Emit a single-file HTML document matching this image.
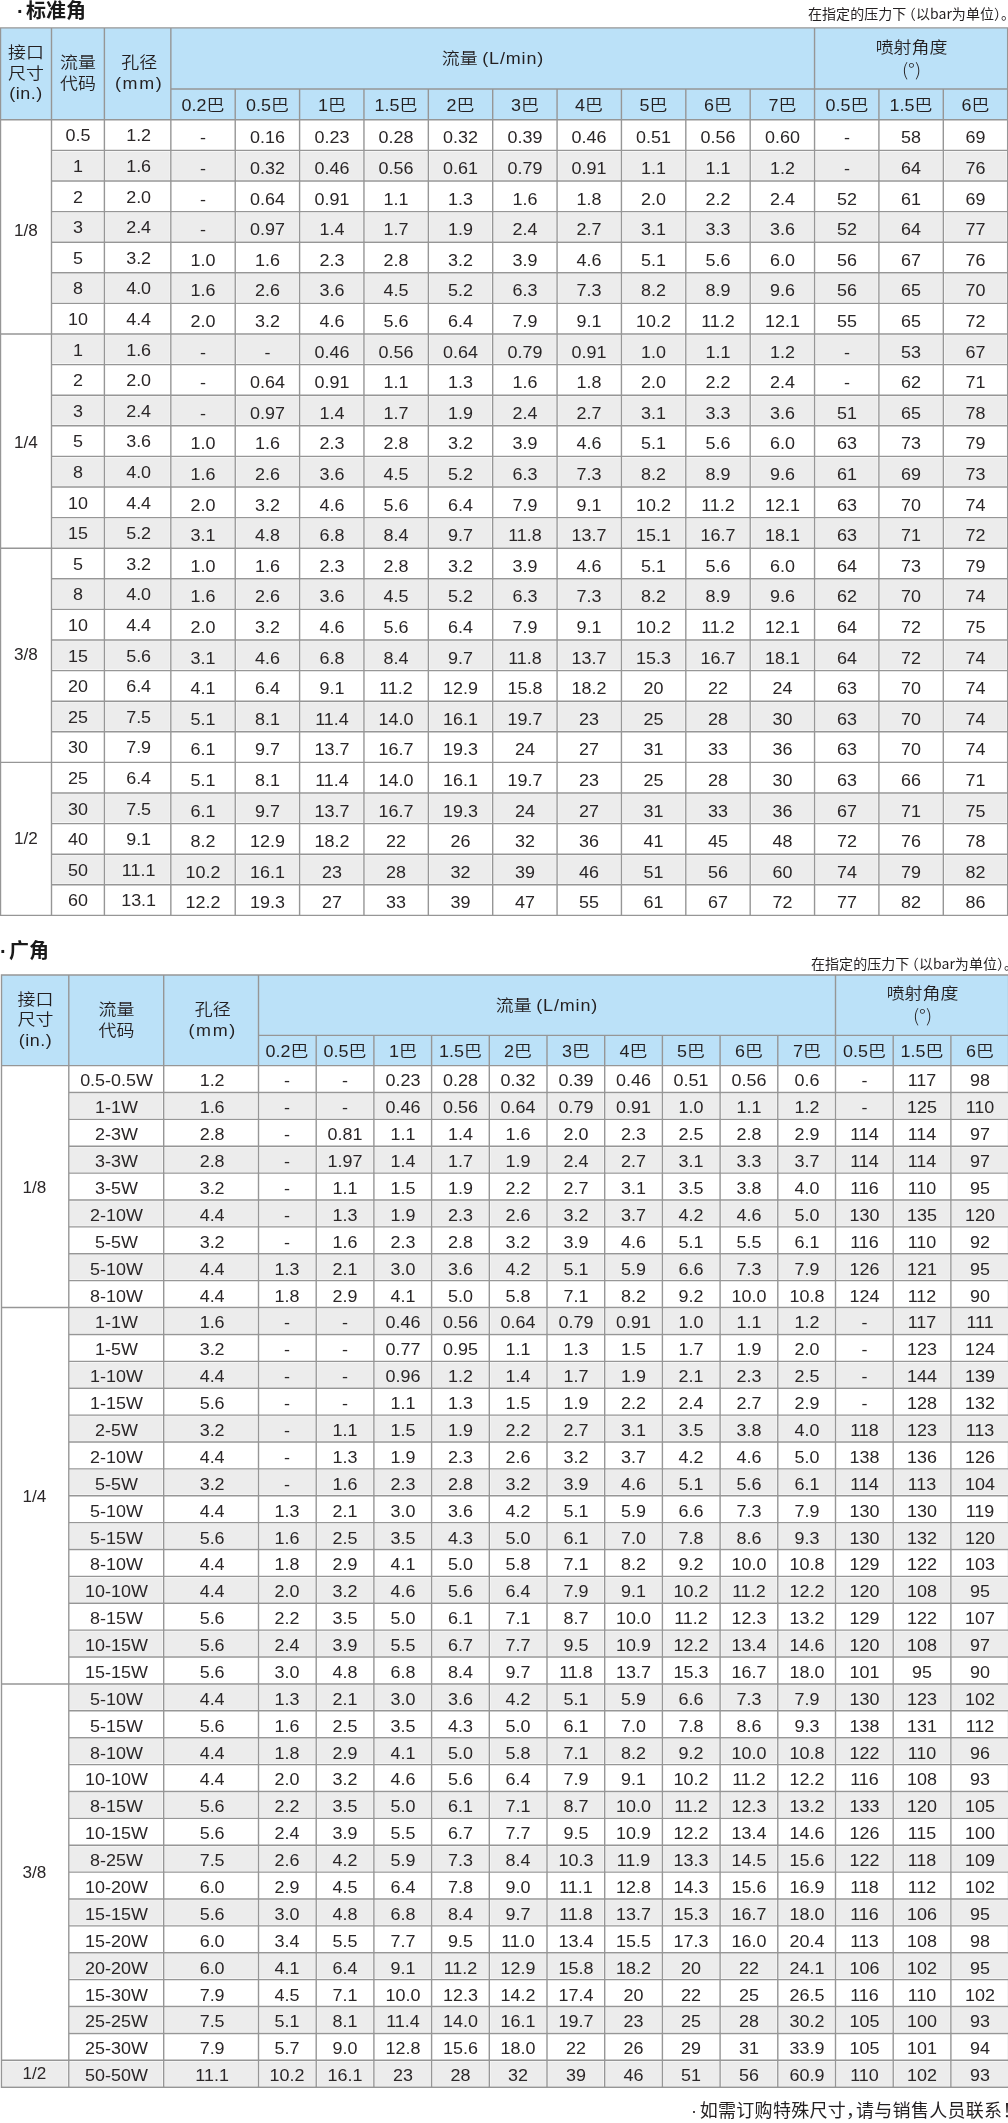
<!DOCTYPE html>
<html lang="zh-CN">
<head>
<meta charset="utf-8">
<title>喷嘴流量表</title>
<style>
html,body{margin:0;padding:0;background:#fff;}
body{width:1008px;height:2123px;position:relative;overflow:hidden;
 font-family:"Liberation Sans","Noto Sans CJK SC",sans-serif;color:#231f20;}
.title{position:absolute;will-change:transform;font-weight:700;font-size:20px;line-height:24px;white-space:nowrap;
 font-family:"Liberation Sans","Noto Sans CJK SC",sans-serif;color:#1a1a1a;}
.title .dot{display:inline-block;width:9px;}
.note{position:absolute;will-change:transform;right:0;letter-spacing:0.05px;font-size:14px;line-height:18px;white-space:nowrap;font-weight:400;text-spacing-trim:space-all;
 font-family:"Noto Sans CJK SC","Liberation Sans",sans-serif;color:#231f20;}
.note .p,.foot .p{margin-right:-0.5em;}
.note .q{margin-left:-4.5px;}
.foot{position:absolute;will-change:transform;left:690.7px;font-size:18px;line-height:22px;white-space:nowrap;font-weight:400;letter-spacing:0.3px;text-spacing-trim:space-all;
 font-family:"Noto Sans CJK SC","Liberation Sans",sans-serif;color:#231f20;}
.foot .sp{display:inline-block;width:0.6px;}
.foot .dot{font-family:"Liberation Sans",sans-serif;letter-spacing:0;margin-right:2.7px;}
svg.grid{position:absolute;left:0;top:0;}
table.t{position:absolute;border-collapse:collapse;border-spacing:0;table-layout:fixed;will-change:transform;}
.t th,.t td{border:0;padding:0;text-align:center;vertical-align:middle;white-space:nowrap;transform:scaleX(1.12);}
.t th{font-weight:350;font-size:16px;line-height:20.6px;color:#231f20;}
.t th .en{font-weight:400;font-size:16px;}
.t th.h3 .en{letter-spacing:0.5px;}
.t th.hf .en{letter-spacing:0.8px;margin-left:4px;}
.t th.hk .en{letter-spacing:1.5px;}
.t th.hk{padding-left:3px;}
.t th.ha .en{font-family:"Noto Sans CJK SC","Liberation Sans",sans-serif;font-weight:300;font-size:17.5px;}
.t tr.sub th{padding-top:3px;}
.t th.hf,.t th.ha{padding-top:2px;}
.t td{font-size:16px;font-weight:400;color:#2a2627;}
.t1 td{padding-top:6px;}
.t1 td.a{padding-top:2px;}
.t1 td.sz{padding-top:0;}
.t td.sz{transform:scaleX(1.07);}
.t2 td{padding-top:4px;}
.t2 td.sz{padding-top:1px;padding-right:2px;}
.t td.b{padding-left:2px;}
</style>
</head>
<body>
<svg class="grid" width="1008" height="2123" viewBox="0 0 1008 2123">
<rect x="0.5" y="27.9" width="1007.16" height="91.9" fill="#bbe1f8"/>
<rect x="52.65" y="151.55" width="50.6" height="28.3" fill="#ececec"/>
<rect x="105.55" y="151.55" width="64.15" height="28.3" fill="#ececec"/>
<rect x="172" y="151.55" width="62.07" height="28.3" fill="#ececec"/>
<rect x="236.37" y="151.55" width="62.07" height="28.3" fill="#ececec"/>
<rect x="300.74" y="151.55" width="62.07" height="28.3" fill="#ececec"/>
<rect x="365.11" y="151.55" width="62.07" height="28.3" fill="#ececec"/>
<rect x="429.48" y="151.55" width="62.07" height="28.3" fill="#ececec"/>
<rect x="493.85" y="151.55" width="62.07" height="28.3" fill="#ececec"/>
<rect x="558.22" y="151.55" width="62.07" height="28.3" fill="#ececec"/>
<rect x="622.59" y="151.55" width="62.07" height="28.3" fill="#ececec"/>
<rect x="686.96" y="151.55" width="62.07" height="28.3" fill="#ececec"/>
<rect x="751.33" y="151.55" width="62.07" height="28.3" fill="#ececec"/>
<rect x="815.7" y="151.55" width="62.07" height="28.3" fill="#ececec"/>
<rect x="880.07" y="151.55" width="62.07" height="28.3" fill="#ececec"/>
<rect x="944.44" y="151.55" width="62.07" height="28.3" fill="#ececec"/>
<rect x="52.65" y="212.75" width="50.6" height="28.3" fill="#ececec"/>
<rect x="105.55" y="212.75" width="64.15" height="28.3" fill="#ececec"/>
<rect x="172" y="212.75" width="62.07" height="28.3" fill="#ececec"/>
<rect x="236.37" y="212.75" width="62.07" height="28.3" fill="#ececec"/>
<rect x="300.74" y="212.75" width="62.07" height="28.3" fill="#ececec"/>
<rect x="365.11" y="212.75" width="62.07" height="28.3" fill="#ececec"/>
<rect x="429.48" y="212.75" width="62.07" height="28.3" fill="#ececec"/>
<rect x="493.85" y="212.75" width="62.07" height="28.3" fill="#ececec"/>
<rect x="558.22" y="212.75" width="62.07" height="28.3" fill="#ececec"/>
<rect x="622.59" y="212.75" width="62.07" height="28.3" fill="#ececec"/>
<rect x="686.96" y="212.75" width="62.07" height="28.3" fill="#ececec"/>
<rect x="751.33" y="212.75" width="62.07" height="28.3" fill="#ececec"/>
<rect x="815.7" y="212.75" width="62.07" height="28.3" fill="#ececec"/>
<rect x="880.07" y="212.75" width="62.07" height="28.3" fill="#ececec"/>
<rect x="944.44" y="212.75" width="62.07" height="28.3" fill="#ececec"/>
<rect x="52.65" y="273.95" width="50.6" height="28.3" fill="#ececec"/>
<rect x="105.55" y="273.95" width="64.15" height="28.3" fill="#ececec"/>
<rect x="172" y="273.95" width="62.07" height="28.3" fill="#ececec"/>
<rect x="236.37" y="273.95" width="62.07" height="28.3" fill="#ececec"/>
<rect x="300.74" y="273.95" width="62.07" height="28.3" fill="#ececec"/>
<rect x="365.11" y="273.95" width="62.07" height="28.3" fill="#ececec"/>
<rect x="429.48" y="273.95" width="62.07" height="28.3" fill="#ececec"/>
<rect x="493.85" y="273.95" width="62.07" height="28.3" fill="#ececec"/>
<rect x="558.22" y="273.95" width="62.07" height="28.3" fill="#ececec"/>
<rect x="622.59" y="273.95" width="62.07" height="28.3" fill="#ececec"/>
<rect x="686.96" y="273.95" width="62.07" height="28.3" fill="#ececec"/>
<rect x="751.33" y="273.95" width="62.07" height="28.3" fill="#ececec"/>
<rect x="815.7" y="273.95" width="62.07" height="28.3" fill="#ececec"/>
<rect x="880.07" y="273.95" width="62.07" height="28.3" fill="#ececec"/>
<rect x="944.44" y="273.95" width="62.07" height="28.3" fill="#ececec"/>
<rect x="52.65" y="335.15" width="50.6" height="28.3" fill="#ececec"/>
<rect x="105.55" y="335.15" width="64.15" height="28.3" fill="#ececec"/>
<rect x="172" y="335.15" width="62.07" height="28.3" fill="#ececec"/>
<rect x="236.37" y="335.15" width="62.07" height="28.3" fill="#ececec"/>
<rect x="300.74" y="335.15" width="62.07" height="28.3" fill="#ececec"/>
<rect x="365.11" y="335.15" width="62.07" height="28.3" fill="#ececec"/>
<rect x="429.48" y="335.15" width="62.07" height="28.3" fill="#ececec"/>
<rect x="493.85" y="335.15" width="62.07" height="28.3" fill="#ececec"/>
<rect x="558.22" y="335.15" width="62.07" height="28.3" fill="#ececec"/>
<rect x="622.59" y="335.15" width="62.07" height="28.3" fill="#ececec"/>
<rect x="686.96" y="335.15" width="62.07" height="28.3" fill="#ececec"/>
<rect x="751.33" y="335.15" width="62.07" height="28.3" fill="#ececec"/>
<rect x="815.7" y="335.15" width="62.07" height="28.3" fill="#ececec"/>
<rect x="880.07" y="335.15" width="62.07" height="28.3" fill="#ececec"/>
<rect x="944.44" y="335.15" width="62.07" height="28.3" fill="#ececec"/>
<rect x="52.65" y="396.35" width="50.6" height="28.3" fill="#ececec"/>
<rect x="105.55" y="396.35" width="64.15" height="28.3" fill="#ececec"/>
<rect x="172" y="396.35" width="62.07" height="28.3" fill="#ececec"/>
<rect x="236.37" y="396.35" width="62.07" height="28.3" fill="#ececec"/>
<rect x="300.74" y="396.35" width="62.07" height="28.3" fill="#ececec"/>
<rect x="365.11" y="396.35" width="62.07" height="28.3" fill="#ececec"/>
<rect x="429.48" y="396.35" width="62.07" height="28.3" fill="#ececec"/>
<rect x="493.85" y="396.35" width="62.07" height="28.3" fill="#ececec"/>
<rect x="558.22" y="396.35" width="62.07" height="28.3" fill="#ececec"/>
<rect x="622.59" y="396.35" width="62.07" height="28.3" fill="#ececec"/>
<rect x="686.96" y="396.35" width="62.07" height="28.3" fill="#ececec"/>
<rect x="751.33" y="396.35" width="62.07" height="28.3" fill="#ececec"/>
<rect x="815.7" y="396.35" width="62.07" height="28.3" fill="#ececec"/>
<rect x="880.07" y="396.35" width="62.07" height="28.3" fill="#ececec"/>
<rect x="944.44" y="396.35" width="62.07" height="28.3" fill="#ececec"/>
<rect x="52.65" y="457.55" width="50.6" height="28.3" fill="#ececec"/>
<rect x="105.55" y="457.55" width="64.15" height="28.3" fill="#ececec"/>
<rect x="172" y="457.55" width="62.07" height="28.3" fill="#ececec"/>
<rect x="236.37" y="457.55" width="62.07" height="28.3" fill="#ececec"/>
<rect x="300.74" y="457.55" width="62.07" height="28.3" fill="#ececec"/>
<rect x="365.11" y="457.55" width="62.07" height="28.3" fill="#ececec"/>
<rect x="429.48" y="457.55" width="62.07" height="28.3" fill="#ececec"/>
<rect x="493.85" y="457.55" width="62.07" height="28.3" fill="#ececec"/>
<rect x="558.22" y="457.55" width="62.07" height="28.3" fill="#ececec"/>
<rect x="622.59" y="457.55" width="62.07" height="28.3" fill="#ececec"/>
<rect x="686.96" y="457.55" width="62.07" height="28.3" fill="#ececec"/>
<rect x="751.33" y="457.55" width="62.07" height="28.3" fill="#ececec"/>
<rect x="815.7" y="457.55" width="62.07" height="28.3" fill="#ececec"/>
<rect x="880.07" y="457.55" width="62.07" height="28.3" fill="#ececec"/>
<rect x="944.44" y="457.55" width="62.07" height="28.3" fill="#ececec"/>
<rect x="52.65" y="518.75" width="50.6" height="28.3" fill="#ececec"/>
<rect x="105.55" y="518.75" width="64.15" height="28.3" fill="#ececec"/>
<rect x="172" y="518.75" width="62.07" height="28.3" fill="#ececec"/>
<rect x="236.37" y="518.75" width="62.07" height="28.3" fill="#ececec"/>
<rect x="300.74" y="518.75" width="62.07" height="28.3" fill="#ececec"/>
<rect x="365.11" y="518.75" width="62.07" height="28.3" fill="#ececec"/>
<rect x="429.48" y="518.75" width="62.07" height="28.3" fill="#ececec"/>
<rect x="493.85" y="518.75" width="62.07" height="28.3" fill="#ececec"/>
<rect x="558.22" y="518.75" width="62.07" height="28.3" fill="#ececec"/>
<rect x="622.59" y="518.75" width="62.07" height="28.3" fill="#ececec"/>
<rect x="686.96" y="518.75" width="62.07" height="28.3" fill="#ececec"/>
<rect x="751.33" y="518.75" width="62.07" height="28.3" fill="#ececec"/>
<rect x="815.7" y="518.75" width="62.07" height="28.3" fill="#ececec"/>
<rect x="880.07" y="518.75" width="62.07" height="28.3" fill="#ececec"/>
<rect x="944.44" y="518.75" width="62.07" height="28.3" fill="#ececec"/>
<rect x="52.65" y="579.95" width="50.6" height="28.3" fill="#ececec"/>
<rect x="105.55" y="579.95" width="64.15" height="28.3" fill="#ececec"/>
<rect x="172" y="579.95" width="62.07" height="28.3" fill="#ececec"/>
<rect x="236.37" y="579.95" width="62.07" height="28.3" fill="#ececec"/>
<rect x="300.74" y="579.95" width="62.07" height="28.3" fill="#ececec"/>
<rect x="365.11" y="579.95" width="62.07" height="28.3" fill="#ececec"/>
<rect x="429.48" y="579.95" width="62.07" height="28.3" fill="#ececec"/>
<rect x="493.85" y="579.95" width="62.07" height="28.3" fill="#ececec"/>
<rect x="558.22" y="579.95" width="62.07" height="28.3" fill="#ececec"/>
<rect x="622.59" y="579.95" width="62.07" height="28.3" fill="#ececec"/>
<rect x="686.96" y="579.95" width="62.07" height="28.3" fill="#ececec"/>
<rect x="751.33" y="579.95" width="62.07" height="28.3" fill="#ececec"/>
<rect x="815.7" y="579.95" width="62.07" height="28.3" fill="#ececec"/>
<rect x="880.07" y="579.95" width="62.07" height="28.3" fill="#ececec"/>
<rect x="944.44" y="579.95" width="62.07" height="28.3" fill="#ececec"/>
<rect x="52.65" y="641.15" width="50.6" height="28.3" fill="#ececec"/>
<rect x="105.55" y="641.15" width="64.15" height="28.3" fill="#ececec"/>
<rect x="172" y="641.15" width="62.07" height="28.3" fill="#ececec"/>
<rect x="236.37" y="641.15" width="62.07" height="28.3" fill="#ececec"/>
<rect x="300.74" y="641.15" width="62.07" height="28.3" fill="#ececec"/>
<rect x="365.11" y="641.15" width="62.07" height="28.3" fill="#ececec"/>
<rect x="429.48" y="641.15" width="62.07" height="28.3" fill="#ececec"/>
<rect x="493.85" y="641.15" width="62.07" height="28.3" fill="#ececec"/>
<rect x="558.22" y="641.15" width="62.07" height="28.3" fill="#ececec"/>
<rect x="622.59" y="641.15" width="62.07" height="28.3" fill="#ececec"/>
<rect x="686.96" y="641.15" width="62.07" height="28.3" fill="#ececec"/>
<rect x="751.33" y="641.15" width="62.07" height="28.3" fill="#ececec"/>
<rect x="815.7" y="641.15" width="62.07" height="28.3" fill="#ececec"/>
<rect x="880.07" y="641.15" width="62.07" height="28.3" fill="#ececec"/>
<rect x="944.44" y="641.15" width="62.07" height="28.3" fill="#ececec"/>
<rect x="52.65" y="702.35" width="50.6" height="28.3" fill="#ececec"/>
<rect x="105.55" y="702.35" width="64.15" height="28.3" fill="#ececec"/>
<rect x="172" y="702.35" width="62.07" height="28.3" fill="#ececec"/>
<rect x="236.37" y="702.35" width="62.07" height="28.3" fill="#ececec"/>
<rect x="300.74" y="702.35" width="62.07" height="28.3" fill="#ececec"/>
<rect x="365.11" y="702.35" width="62.07" height="28.3" fill="#ececec"/>
<rect x="429.48" y="702.35" width="62.07" height="28.3" fill="#ececec"/>
<rect x="493.85" y="702.35" width="62.07" height="28.3" fill="#ececec"/>
<rect x="558.22" y="702.35" width="62.07" height="28.3" fill="#ececec"/>
<rect x="622.59" y="702.35" width="62.07" height="28.3" fill="#ececec"/>
<rect x="686.96" y="702.35" width="62.07" height="28.3" fill="#ececec"/>
<rect x="751.33" y="702.35" width="62.07" height="28.3" fill="#ececec"/>
<rect x="815.7" y="702.35" width="62.07" height="28.3" fill="#ececec"/>
<rect x="880.07" y="702.35" width="62.07" height="28.3" fill="#ececec"/>
<rect x="944.44" y="702.35" width="62.07" height="28.3" fill="#ececec"/>
<rect x="52.65" y="794.15" width="50.6" height="28.3" fill="#ececec"/>
<rect x="105.55" y="794.15" width="64.15" height="28.3" fill="#ececec"/>
<rect x="172" y="794.15" width="62.07" height="28.3" fill="#ececec"/>
<rect x="236.37" y="794.15" width="62.07" height="28.3" fill="#ececec"/>
<rect x="300.74" y="794.15" width="62.07" height="28.3" fill="#ececec"/>
<rect x="365.11" y="794.15" width="62.07" height="28.3" fill="#ececec"/>
<rect x="429.48" y="794.15" width="62.07" height="28.3" fill="#ececec"/>
<rect x="493.85" y="794.15" width="62.07" height="28.3" fill="#ececec"/>
<rect x="558.22" y="794.15" width="62.07" height="28.3" fill="#ececec"/>
<rect x="622.59" y="794.15" width="62.07" height="28.3" fill="#ececec"/>
<rect x="686.96" y="794.15" width="62.07" height="28.3" fill="#ececec"/>
<rect x="751.33" y="794.15" width="62.07" height="28.3" fill="#ececec"/>
<rect x="815.7" y="794.15" width="62.07" height="28.3" fill="#ececec"/>
<rect x="880.07" y="794.15" width="62.07" height="28.3" fill="#ececec"/>
<rect x="944.44" y="794.15" width="62.07" height="28.3" fill="#ececec"/>
<rect x="52.65" y="855.35" width="50.6" height="28.3" fill="#ececec"/>
<rect x="105.55" y="855.35" width="64.15" height="28.3" fill="#ececec"/>
<rect x="172" y="855.35" width="62.07" height="28.3" fill="#ececec"/>
<rect x="236.37" y="855.35" width="62.07" height="28.3" fill="#ececec"/>
<rect x="300.74" y="855.35" width="62.07" height="28.3" fill="#ececec"/>
<rect x="365.11" y="855.35" width="62.07" height="28.3" fill="#ececec"/>
<rect x="429.48" y="855.35" width="62.07" height="28.3" fill="#ececec"/>
<rect x="493.85" y="855.35" width="62.07" height="28.3" fill="#ececec"/>
<rect x="558.22" y="855.35" width="62.07" height="28.3" fill="#ececec"/>
<rect x="622.59" y="855.35" width="62.07" height="28.3" fill="#ececec"/>
<rect x="686.96" y="855.35" width="62.07" height="28.3" fill="#ececec"/>
<rect x="751.33" y="855.35" width="62.07" height="28.3" fill="#ececec"/>
<rect x="815.7" y="855.35" width="62.07" height="28.3" fill="#ececec"/>
<rect x="880.07" y="855.35" width="62.07" height="28.3" fill="#ececec"/>
<rect x="944.44" y="855.35" width="62.07" height="28.3" fill="#ececec"/>
<path d="M-0.2 27.9H1008.36M170.85 89H1007.66M0.5 119.8H1007.66M51.5 150.4H1007.66M51.5 181H1007.66M51.5 211.6H1007.66M51.5 242.2H1007.66M51.5 272.8H1007.66M51.5 303.4H1007.66M0.5 334H1007.66M51.5 364.6H1007.66M51.5 395.2H1007.66M51.5 425.8H1007.66M51.5 456.4H1007.66M51.5 487H1007.66M51.5 517.6H1007.66M0.5 548.2H1007.66M51.5 578.8H1007.66M51.5 609.4H1007.66M51.5 640H1007.66M51.5 670.6H1007.66M51.5 701.2H1007.66M51.5 731.8H1007.66M0.5 762.4H1007.66M51.5 793H1007.66M51.5 823.6H1007.66M51.5 854.2H1007.66M51.5 884.8H1007.66M-0.2 915.4H1008.36M0.5 27.9V915.4M51.5 27.9V915.4M104.4 27.9V915.4M170.85 27.9V915.4M235.22 89V915.4M299.59 89V915.4M363.96 89V915.4M428.33 89V915.4M492.7 89V915.4M557.07 89V915.4M621.44 89V915.4M685.81 89V915.4M750.18 89V915.4M814.55 27.9V915.4M878.92 89V915.4M943.29 89V915.4M1007.66 27.9V915.4" fill="none" stroke="#969696" stroke-width="1.4"/>
<rect x="1.5" y="975" width="1007.1" height="90.6" fill="#bbe1f8"/>
<rect x="69.95" y="1093.63" width="92.6" height="24.58" fill="#ececec"/>
<rect x="164.85" y="1093.63" width="92.5" height="24.58" fill="#ececec"/>
<rect x="259.65" y="1093.63" width="55.4" height="24.58" fill="#ececec"/>
<rect x="317.35" y="1093.63" width="55.4" height="24.58" fill="#ececec"/>
<rect x="375.05" y="1093.63" width="55.4" height="24.58" fill="#ececec"/>
<rect x="432.75" y="1093.63" width="55.4" height="24.58" fill="#ececec"/>
<rect x="490.45" y="1093.63" width="55.4" height="24.58" fill="#ececec"/>
<rect x="548.15" y="1093.63" width="55.4" height="24.58" fill="#ececec"/>
<rect x="605.85" y="1093.63" width="55.4" height="24.58" fill="#ececec"/>
<rect x="663.55" y="1093.63" width="55.4" height="24.58" fill="#ececec"/>
<rect x="721.25" y="1093.63" width="55.4" height="24.58" fill="#ececec"/>
<rect x="778.95" y="1093.63" width="55.4" height="24.58" fill="#ececec"/>
<rect x="836.65" y="1093.63" width="55.4" height="24.58" fill="#ececec"/>
<rect x="894.35" y="1093.63" width="55.4" height="24.58" fill="#ececec"/>
<rect x="952.05" y="1093.63" width="55.4" height="24.58" fill="#ececec"/>
<rect x="69.95" y="1147.4" width="92.6" height="24.58" fill="#ececec"/>
<rect x="164.85" y="1147.4" width="92.5" height="24.58" fill="#ececec"/>
<rect x="259.65" y="1147.4" width="55.4" height="24.58" fill="#ececec"/>
<rect x="317.35" y="1147.4" width="55.4" height="24.58" fill="#ececec"/>
<rect x="375.05" y="1147.4" width="55.4" height="24.58" fill="#ececec"/>
<rect x="432.75" y="1147.4" width="55.4" height="24.58" fill="#ececec"/>
<rect x="490.45" y="1147.4" width="55.4" height="24.58" fill="#ececec"/>
<rect x="548.15" y="1147.4" width="55.4" height="24.58" fill="#ececec"/>
<rect x="605.85" y="1147.4" width="55.4" height="24.58" fill="#ececec"/>
<rect x="663.55" y="1147.4" width="55.4" height="24.58" fill="#ececec"/>
<rect x="721.25" y="1147.4" width="55.4" height="24.58" fill="#ececec"/>
<rect x="778.95" y="1147.4" width="55.4" height="24.58" fill="#ececec"/>
<rect x="836.65" y="1147.4" width="55.4" height="24.58" fill="#ececec"/>
<rect x="894.35" y="1147.4" width="55.4" height="24.58" fill="#ececec"/>
<rect x="952.05" y="1147.4" width="55.4" height="24.58" fill="#ececec"/>
<rect x="69.95" y="1201.17" width="92.6" height="24.58" fill="#ececec"/>
<rect x="164.85" y="1201.17" width="92.5" height="24.58" fill="#ececec"/>
<rect x="259.65" y="1201.17" width="55.4" height="24.58" fill="#ececec"/>
<rect x="317.35" y="1201.17" width="55.4" height="24.58" fill="#ececec"/>
<rect x="375.05" y="1201.17" width="55.4" height="24.58" fill="#ececec"/>
<rect x="432.75" y="1201.17" width="55.4" height="24.58" fill="#ececec"/>
<rect x="490.45" y="1201.17" width="55.4" height="24.58" fill="#ececec"/>
<rect x="548.15" y="1201.17" width="55.4" height="24.58" fill="#ececec"/>
<rect x="605.85" y="1201.17" width="55.4" height="24.58" fill="#ececec"/>
<rect x="663.55" y="1201.17" width="55.4" height="24.58" fill="#ececec"/>
<rect x="721.25" y="1201.17" width="55.4" height="24.58" fill="#ececec"/>
<rect x="778.95" y="1201.17" width="55.4" height="24.58" fill="#ececec"/>
<rect x="836.65" y="1201.17" width="55.4" height="24.58" fill="#ececec"/>
<rect x="894.35" y="1201.17" width="55.4" height="24.58" fill="#ececec"/>
<rect x="952.05" y="1201.17" width="55.4" height="24.58" fill="#ececec"/>
<rect x="69.95" y="1254.94" width="92.6" height="24.58" fill="#ececec"/>
<rect x="164.85" y="1254.94" width="92.5" height="24.58" fill="#ececec"/>
<rect x="259.65" y="1254.94" width="55.4" height="24.58" fill="#ececec"/>
<rect x="317.35" y="1254.94" width="55.4" height="24.58" fill="#ececec"/>
<rect x="375.05" y="1254.94" width="55.4" height="24.58" fill="#ececec"/>
<rect x="432.75" y="1254.94" width="55.4" height="24.58" fill="#ececec"/>
<rect x="490.45" y="1254.94" width="55.4" height="24.58" fill="#ececec"/>
<rect x="548.15" y="1254.94" width="55.4" height="24.58" fill="#ececec"/>
<rect x="605.85" y="1254.94" width="55.4" height="24.58" fill="#ececec"/>
<rect x="663.55" y="1254.94" width="55.4" height="24.58" fill="#ececec"/>
<rect x="721.25" y="1254.94" width="55.4" height="24.58" fill="#ececec"/>
<rect x="778.95" y="1254.94" width="55.4" height="24.58" fill="#ececec"/>
<rect x="836.65" y="1254.94" width="55.4" height="24.58" fill="#ececec"/>
<rect x="894.35" y="1254.94" width="55.4" height="24.58" fill="#ececec"/>
<rect x="952.05" y="1254.94" width="55.4" height="24.58" fill="#ececec"/>
<rect x="69.95" y="1308.71" width="92.6" height="24.58" fill="#ececec"/>
<rect x="164.85" y="1308.71" width="92.5" height="24.58" fill="#ececec"/>
<rect x="259.65" y="1308.71" width="55.4" height="24.58" fill="#ececec"/>
<rect x="317.35" y="1308.71" width="55.4" height="24.58" fill="#ececec"/>
<rect x="375.05" y="1308.71" width="55.4" height="24.58" fill="#ececec"/>
<rect x="432.75" y="1308.71" width="55.4" height="24.58" fill="#ececec"/>
<rect x="490.45" y="1308.71" width="55.4" height="24.58" fill="#ececec"/>
<rect x="548.15" y="1308.71" width="55.4" height="24.58" fill="#ececec"/>
<rect x="605.85" y="1308.71" width="55.4" height="24.58" fill="#ececec"/>
<rect x="663.55" y="1308.71" width="55.4" height="24.58" fill="#ececec"/>
<rect x="721.25" y="1308.71" width="55.4" height="24.58" fill="#ececec"/>
<rect x="778.95" y="1308.71" width="55.4" height="24.58" fill="#ececec"/>
<rect x="836.65" y="1308.71" width="55.4" height="24.58" fill="#ececec"/>
<rect x="894.35" y="1308.71" width="55.4" height="24.58" fill="#ececec"/>
<rect x="952.05" y="1308.71" width="55.4" height="24.58" fill="#ececec"/>
<rect x="69.95" y="1362.48" width="92.6" height="24.58" fill="#ececec"/>
<rect x="164.85" y="1362.48" width="92.5" height="24.58" fill="#ececec"/>
<rect x="259.65" y="1362.48" width="55.4" height="24.58" fill="#ececec"/>
<rect x="317.35" y="1362.48" width="55.4" height="24.58" fill="#ececec"/>
<rect x="375.05" y="1362.48" width="55.4" height="24.58" fill="#ececec"/>
<rect x="432.75" y="1362.48" width="55.4" height="24.58" fill="#ececec"/>
<rect x="490.45" y="1362.48" width="55.4" height="24.58" fill="#ececec"/>
<rect x="548.15" y="1362.48" width="55.4" height="24.58" fill="#ececec"/>
<rect x="605.85" y="1362.48" width="55.4" height="24.58" fill="#ececec"/>
<rect x="663.55" y="1362.48" width="55.4" height="24.58" fill="#ececec"/>
<rect x="721.25" y="1362.48" width="55.4" height="24.58" fill="#ececec"/>
<rect x="778.95" y="1362.48" width="55.4" height="24.58" fill="#ececec"/>
<rect x="836.65" y="1362.48" width="55.4" height="24.58" fill="#ececec"/>
<rect x="894.35" y="1362.48" width="55.4" height="24.58" fill="#ececec"/>
<rect x="952.05" y="1362.48" width="55.4" height="24.58" fill="#ececec"/>
<rect x="69.95" y="1416.24" width="92.6" height="24.58" fill="#ececec"/>
<rect x="164.85" y="1416.24" width="92.5" height="24.58" fill="#ececec"/>
<rect x="259.65" y="1416.24" width="55.4" height="24.58" fill="#ececec"/>
<rect x="317.35" y="1416.24" width="55.4" height="24.58" fill="#ececec"/>
<rect x="375.05" y="1416.24" width="55.4" height="24.58" fill="#ececec"/>
<rect x="432.75" y="1416.24" width="55.4" height="24.58" fill="#ececec"/>
<rect x="490.45" y="1416.24" width="55.4" height="24.58" fill="#ececec"/>
<rect x="548.15" y="1416.24" width="55.4" height="24.58" fill="#ececec"/>
<rect x="605.85" y="1416.24" width="55.4" height="24.58" fill="#ececec"/>
<rect x="663.55" y="1416.24" width="55.4" height="24.58" fill="#ececec"/>
<rect x="721.25" y="1416.24" width="55.4" height="24.58" fill="#ececec"/>
<rect x="778.95" y="1416.24" width="55.4" height="24.58" fill="#ececec"/>
<rect x="836.65" y="1416.24" width="55.4" height="24.58" fill="#ececec"/>
<rect x="894.35" y="1416.24" width="55.4" height="24.58" fill="#ececec"/>
<rect x="952.05" y="1416.24" width="55.4" height="24.58" fill="#ececec"/>
<rect x="69.95" y="1470.01" width="92.6" height="24.58" fill="#ececec"/>
<rect x="164.85" y="1470.01" width="92.5" height="24.58" fill="#ececec"/>
<rect x="259.65" y="1470.01" width="55.4" height="24.58" fill="#ececec"/>
<rect x="317.35" y="1470.01" width="55.4" height="24.58" fill="#ececec"/>
<rect x="375.05" y="1470.01" width="55.4" height="24.58" fill="#ececec"/>
<rect x="432.75" y="1470.01" width="55.4" height="24.58" fill="#ececec"/>
<rect x="490.45" y="1470.01" width="55.4" height="24.58" fill="#ececec"/>
<rect x="548.15" y="1470.01" width="55.4" height="24.58" fill="#ececec"/>
<rect x="605.85" y="1470.01" width="55.4" height="24.58" fill="#ececec"/>
<rect x="663.55" y="1470.01" width="55.4" height="24.58" fill="#ececec"/>
<rect x="721.25" y="1470.01" width="55.4" height="24.58" fill="#ececec"/>
<rect x="778.95" y="1470.01" width="55.4" height="24.58" fill="#ececec"/>
<rect x="836.65" y="1470.01" width="55.4" height="24.58" fill="#ececec"/>
<rect x="894.35" y="1470.01" width="55.4" height="24.58" fill="#ececec"/>
<rect x="952.05" y="1470.01" width="55.4" height="24.58" fill="#ececec"/>
<rect x="69.95" y="1523.78" width="92.6" height="24.58" fill="#ececec"/>
<rect x="164.85" y="1523.78" width="92.5" height="24.58" fill="#ececec"/>
<rect x="259.65" y="1523.78" width="55.4" height="24.58" fill="#ececec"/>
<rect x="317.35" y="1523.78" width="55.4" height="24.58" fill="#ececec"/>
<rect x="375.05" y="1523.78" width="55.4" height="24.58" fill="#ececec"/>
<rect x="432.75" y="1523.78" width="55.4" height="24.58" fill="#ececec"/>
<rect x="490.45" y="1523.78" width="55.4" height="24.58" fill="#ececec"/>
<rect x="548.15" y="1523.78" width="55.4" height="24.58" fill="#ececec"/>
<rect x="605.85" y="1523.78" width="55.4" height="24.58" fill="#ececec"/>
<rect x="663.55" y="1523.78" width="55.4" height="24.58" fill="#ececec"/>
<rect x="721.25" y="1523.78" width="55.4" height="24.58" fill="#ececec"/>
<rect x="778.95" y="1523.78" width="55.4" height="24.58" fill="#ececec"/>
<rect x="836.65" y="1523.78" width="55.4" height="24.58" fill="#ececec"/>
<rect x="894.35" y="1523.78" width="55.4" height="24.58" fill="#ececec"/>
<rect x="952.05" y="1523.78" width="55.4" height="24.58" fill="#ececec"/>
<rect x="69.95" y="1577.55" width="92.6" height="24.58" fill="#ececec"/>
<rect x="164.85" y="1577.55" width="92.5" height="24.58" fill="#ececec"/>
<rect x="259.65" y="1577.55" width="55.4" height="24.58" fill="#ececec"/>
<rect x="317.35" y="1577.55" width="55.4" height="24.58" fill="#ececec"/>
<rect x="375.05" y="1577.55" width="55.4" height="24.58" fill="#ececec"/>
<rect x="432.75" y="1577.55" width="55.4" height="24.58" fill="#ececec"/>
<rect x="490.45" y="1577.55" width="55.4" height="24.58" fill="#ececec"/>
<rect x="548.15" y="1577.55" width="55.4" height="24.58" fill="#ececec"/>
<rect x="605.85" y="1577.55" width="55.4" height="24.58" fill="#ececec"/>
<rect x="663.55" y="1577.55" width="55.4" height="24.58" fill="#ececec"/>
<rect x="721.25" y="1577.55" width="55.4" height="24.58" fill="#ececec"/>
<rect x="778.95" y="1577.55" width="55.4" height="24.58" fill="#ececec"/>
<rect x="836.65" y="1577.55" width="55.4" height="24.58" fill="#ececec"/>
<rect x="894.35" y="1577.55" width="55.4" height="24.58" fill="#ececec"/>
<rect x="952.05" y="1577.55" width="55.4" height="24.58" fill="#ececec"/>
<rect x="69.95" y="1631.32" width="92.6" height="24.58" fill="#ececec"/>
<rect x="164.85" y="1631.32" width="92.5" height="24.58" fill="#ececec"/>
<rect x="259.65" y="1631.32" width="55.4" height="24.58" fill="#ececec"/>
<rect x="317.35" y="1631.32" width="55.4" height="24.58" fill="#ececec"/>
<rect x="375.05" y="1631.32" width="55.4" height="24.58" fill="#ececec"/>
<rect x="432.75" y="1631.32" width="55.4" height="24.58" fill="#ececec"/>
<rect x="490.45" y="1631.32" width="55.4" height="24.58" fill="#ececec"/>
<rect x="548.15" y="1631.32" width="55.4" height="24.58" fill="#ececec"/>
<rect x="605.85" y="1631.32" width="55.4" height="24.58" fill="#ececec"/>
<rect x="663.55" y="1631.32" width="55.4" height="24.58" fill="#ececec"/>
<rect x="721.25" y="1631.32" width="55.4" height="24.58" fill="#ececec"/>
<rect x="778.95" y="1631.32" width="55.4" height="24.58" fill="#ececec"/>
<rect x="836.65" y="1631.32" width="55.4" height="24.58" fill="#ececec"/>
<rect x="894.35" y="1631.32" width="55.4" height="24.58" fill="#ececec"/>
<rect x="952.05" y="1631.32" width="55.4" height="24.58" fill="#ececec"/>
<rect x="69.95" y="1685.09" width="92.6" height="24.58" fill="#ececec"/>
<rect x="164.85" y="1685.09" width="92.5" height="24.58" fill="#ececec"/>
<rect x="259.65" y="1685.09" width="55.4" height="24.58" fill="#ececec"/>
<rect x="317.35" y="1685.09" width="55.4" height="24.58" fill="#ececec"/>
<rect x="375.05" y="1685.09" width="55.4" height="24.58" fill="#ececec"/>
<rect x="432.75" y="1685.09" width="55.4" height="24.58" fill="#ececec"/>
<rect x="490.45" y="1685.09" width="55.4" height="24.58" fill="#ececec"/>
<rect x="548.15" y="1685.09" width="55.4" height="24.58" fill="#ececec"/>
<rect x="605.85" y="1685.09" width="55.4" height="24.58" fill="#ececec"/>
<rect x="663.55" y="1685.09" width="55.4" height="24.58" fill="#ececec"/>
<rect x="721.25" y="1685.09" width="55.4" height="24.58" fill="#ececec"/>
<rect x="778.95" y="1685.09" width="55.4" height="24.58" fill="#ececec"/>
<rect x="836.65" y="1685.09" width="55.4" height="24.58" fill="#ececec"/>
<rect x="894.35" y="1685.09" width="55.4" height="24.58" fill="#ececec"/>
<rect x="952.05" y="1685.09" width="55.4" height="24.58" fill="#ececec"/>
<rect x="69.95" y="1738.86" width="92.6" height="24.58" fill="#ececec"/>
<rect x="164.85" y="1738.86" width="92.5" height="24.58" fill="#ececec"/>
<rect x="259.65" y="1738.86" width="55.4" height="24.58" fill="#ececec"/>
<rect x="317.35" y="1738.86" width="55.4" height="24.58" fill="#ececec"/>
<rect x="375.05" y="1738.86" width="55.4" height="24.58" fill="#ececec"/>
<rect x="432.75" y="1738.86" width="55.4" height="24.58" fill="#ececec"/>
<rect x="490.45" y="1738.86" width="55.4" height="24.58" fill="#ececec"/>
<rect x="548.15" y="1738.86" width="55.4" height="24.58" fill="#ececec"/>
<rect x="605.85" y="1738.86" width="55.4" height="24.58" fill="#ececec"/>
<rect x="663.55" y="1738.86" width="55.4" height="24.58" fill="#ececec"/>
<rect x="721.25" y="1738.86" width="55.4" height="24.58" fill="#ececec"/>
<rect x="778.95" y="1738.86" width="55.4" height="24.58" fill="#ececec"/>
<rect x="836.65" y="1738.86" width="55.4" height="24.58" fill="#ececec"/>
<rect x="894.35" y="1738.86" width="55.4" height="24.58" fill="#ececec"/>
<rect x="952.05" y="1738.86" width="55.4" height="24.58" fill="#ececec"/>
<rect x="69.95" y="1792.62" width="92.6" height="24.58" fill="#ececec"/>
<rect x="164.85" y="1792.62" width="92.5" height="24.58" fill="#ececec"/>
<rect x="259.65" y="1792.62" width="55.4" height="24.58" fill="#ececec"/>
<rect x="317.35" y="1792.62" width="55.4" height="24.58" fill="#ececec"/>
<rect x="375.05" y="1792.62" width="55.4" height="24.58" fill="#ececec"/>
<rect x="432.75" y="1792.62" width="55.4" height="24.58" fill="#ececec"/>
<rect x="490.45" y="1792.62" width="55.4" height="24.58" fill="#ececec"/>
<rect x="548.15" y="1792.62" width="55.4" height="24.58" fill="#ececec"/>
<rect x="605.85" y="1792.62" width="55.4" height="24.58" fill="#ececec"/>
<rect x="663.55" y="1792.62" width="55.4" height="24.58" fill="#ececec"/>
<rect x="721.25" y="1792.62" width="55.4" height="24.58" fill="#ececec"/>
<rect x="778.95" y="1792.62" width="55.4" height="24.58" fill="#ececec"/>
<rect x="836.65" y="1792.62" width="55.4" height="24.58" fill="#ececec"/>
<rect x="894.35" y="1792.62" width="55.4" height="24.58" fill="#ececec"/>
<rect x="952.05" y="1792.62" width="55.4" height="24.58" fill="#ececec"/>
<rect x="69.95" y="1846.39" width="92.6" height="24.58" fill="#ececec"/>
<rect x="164.85" y="1846.39" width="92.5" height="24.58" fill="#ececec"/>
<rect x="259.65" y="1846.39" width="55.4" height="24.58" fill="#ececec"/>
<rect x="317.35" y="1846.39" width="55.4" height="24.58" fill="#ececec"/>
<rect x="375.05" y="1846.39" width="55.4" height="24.58" fill="#ececec"/>
<rect x="432.75" y="1846.39" width="55.4" height="24.58" fill="#ececec"/>
<rect x="490.45" y="1846.39" width="55.4" height="24.58" fill="#ececec"/>
<rect x="548.15" y="1846.39" width="55.4" height="24.58" fill="#ececec"/>
<rect x="605.85" y="1846.39" width="55.4" height="24.58" fill="#ececec"/>
<rect x="663.55" y="1846.39" width="55.4" height="24.58" fill="#ececec"/>
<rect x="721.25" y="1846.39" width="55.4" height="24.58" fill="#ececec"/>
<rect x="778.95" y="1846.39" width="55.4" height="24.58" fill="#ececec"/>
<rect x="836.65" y="1846.39" width="55.4" height="24.58" fill="#ececec"/>
<rect x="894.35" y="1846.39" width="55.4" height="24.58" fill="#ececec"/>
<rect x="952.05" y="1846.39" width="55.4" height="24.58" fill="#ececec"/>
<rect x="69.95" y="1900.16" width="92.6" height="24.58" fill="#ececec"/>
<rect x="164.85" y="1900.16" width="92.5" height="24.58" fill="#ececec"/>
<rect x="259.65" y="1900.16" width="55.4" height="24.58" fill="#ececec"/>
<rect x="317.35" y="1900.16" width="55.4" height="24.58" fill="#ececec"/>
<rect x="375.05" y="1900.16" width="55.4" height="24.58" fill="#ececec"/>
<rect x="432.75" y="1900.16" width="55.4" height="24.58" fill="#ececec"/>
<rect x="490.45" y="1900.16" width="55.4" height="24.58" fill="#ececec"/>
<rect x="548.15" y="1900.16" width="55.4" height="24.58" fill="#ececec"/>
<rect x="605.85" y="1900.16" width="55.4" height="24.58" fill="#ececec"/>
<rect x="663.55" y="1900.16" width="55.4" height="24.58" fill="#ececec"/>
<rect x="721.25" y="1900.16" width="55.4" height="24.58" fill="#ececec"/>
<rect x="778.95" y="1900.16" width="55.4" height="24.58" fill="#ececec"/>
<rect x="836.65" y="1900.16" width="55.4" height="24.58" fill="#ececec"/>
<rect x="894.35" y="1900.16" width="55.4" height="24.58" fill="#ececec"/>
<rect x="952.05" y="1900.16" width="55.4" height="24.58" fill="#ececec"/>
<rect x="69.95" y="1953.93" width="92.6" height="24.58" fill="#ececec"/>
<rect x="164.85" y="1953.93" width="92.5" height="24.58" fill="#ececec"/>
<rect x="259.65" y="1953.93" width="55.4" height="24.58" fill="#ececec"/>
<rect x="317.35" y="1953.93" width="55.4" height="24.58" fill="#ececec"/>
<rect x="375.05" y="1953.93" width="55.4" height="24.58" fill="#ececec"/>
<rect x="432.75" y="1953.93" width="55.4" height="24.58" fill="#ececec"/>
<rect x="490.45" y="1953.93" width="55.4" height="24.58" fill="#ececec"/>
<rect x="548.15" y="1953.93" width="55.4" height="24.58" fill="#ececec"/>
<rect x="605.85" y="1953.93" width="55.4" height="24.58" fill="#ececec"/>
<rect x="663.55" y="1953.93" width="55.4" height="24.58" fill="#ececec"/>
<rect x="721.25" y="1953.93" width="55.4" height="24.58" fill="#ececec"/>
<rect x="778.95" y="1953.93" width="55.4" height="24.58" fill="#ececec"/>
<rect x="836.65" y="1953.93" width="55.4" height="24.58" fill="#ececec"/>
<rect x="894.35" y="1953.93" width="55.4" height="24.58" fill="#ececec"/>
<rect x="952.05" y="1953.93" width="55.4" height="24.58" fill="#ececec"/>
<rect x="69.95" y="2007.7" width="92.6" height="24.58" fill="#ececec"/>
<rect x="164.85" y="2007.7" width="92.5" height="24.58" fill="#ececec"/>
<rect x="259.65" y="2007.7" width="55.4" height="24.58" fill="#ececec"/>
<rect x="317.35" y="2007.7" width="55.4" height="24.58" fill="#ececec"/>
<rect x="375.05" y="2007.7" width="55.4" height="24.58" fill="#ececec"/>
<rect x="432.75" y="2007.7" width="55.4" height="24.58" fill="#ececec"/>
<rect x="490.45" y="2007.7" width="55.4" height="24.58" fill="#ececec"/>
<rect x="548.15" y="2007.7" width="55.4" height="24.58" fill="#ececec"/>
<rect x="605.85" y="2007.7" width="55.4" height="24.58" fill="#ececec"/>
<rect x="663.55" y="2007.7" width="55.4" height="24.58" fill="#ececec"/>
<rect x="721.25" y="2007.7" width="55.4" height="24.58" fill="#ececec"/>
<rect x="778.95" y="2007.7" width="55.4" height="24.58" fill="#ececec"/>
<rect x="836.65" y="2007.7" width="55.4" height="24.58" fill="#ececec"/>
<rect x="894.35" y="2007.7" width="55.4" height="24.58" fill="#ececec"/>
<rect x="952.05" y="2007.7" width="55.4" height="24.58" fill="#ececec"/>
<rect x="2.65" y="2061.47" width="65" height="24.58" fill="#ececec"/>
<rect x="69.95" y="2061.47" width="92.6" height="24.58" fill="#ececec"/>
<rect x="164.85" y="2061.47" width="92.5" height="24.58" fill="#ececec"/>
<rect x="259.65" y="2061.47" width="55.4" height="24.58" fill="#ececec"/>
<rect x="317.35" y="2061.47" width="55.4" height="24.58" fill="#ececec"/>
<rect x="375.05" y="2061.47" width="55.4" height="24.58" fill="#ececec"/>
<rect x="432.75" y="2061.47" width="55.4" height="24.58" fill="#ececec"/>
<rect x="490.45" y="2061.47" width="55.4" height="24.58" fill="#ececec"/>
<rect x="548.15" y="2061.47" width="55.4" height="24.58" fill="#ececec"/>
<rect x="605.85" y="2061.47" width="55.4" height="24.58" fill="#ececec"/>
<rect x="663.55" y="2061.47" width="55.4" height="24.58" fill="#ececec"/>
<rect x="721.25" y="2061.47" width="55.4" height="24.58" fill="#ececec"/>
<rect x="778.95" y="2061.47" width="55.4" height="24.58" fill="#ececec"/>
<rect x="836.65" y="2061.47" width="55.4" height="24.58" fill="#ececec"/>
<rect x="894.35" y="2061.47" width="55.4" height="24.58" fill="#ececec"/>
<rect x="952.05" y="2061.47" width="55.4" height="24.58" fill="#ececec"/>
<path d="M0.8 975H1009.3M258.5 1035.4H1008.6M1.5 1065.6H1008.6M68.8 1092.48H1008.6M68.8 1119.37H1008.6M68.8 1146.25H1008.6M68.8 1173.14H1008.6M68.8 1200.02H1008.6M68.8 1226.91H1008.6M68.8 1253.79H1008.6M68.8 1280.67H1008.6M1.5 1307.56H1008.6M68.8 1334.44H1008.6M68.8 1361.33H1008.6M68.8 1388.21H1008.6M68.8 1415.09H1008.6M68.8 1441.98H1008.6M68.8 1468.86H1008.6M68.8 1495.75H1008.6M68.8 1522.63H1008.6M68.8 1549.52H1008.6M68.8 1576.4H1008.6M68.8 1603.28H1008.6M68.8 1630.17H1008.6M68.8 1657.05H1008.6M1.5 1683.94H1008.6M68.8 1710.82H1008.6M68.8 1737.71H1008.6M68.8 1764.59H1008.6M68.8 1791.47H1008.6M68.8 1818.36H1008.6M68.8 1845.24H1008.6M68.8 1872.13H1008.6M68.8 1899.01H1008.6M68.8 1925.89H1008.6M68.8 1952.78H1008.6M68.8 1979.66H1008.6M68.8 2006.55H1008.6M68.8 2033.43H1008.6M1.5 2060.32H1008.6M0.8 2087.2H1009.3M1.5 975V2087.2M68.8 975V2087.2M163.7 975V2087.2M258.5 975V2087.2M316.2 1035.4V2087.2M373.9 1035.4V2087.2M431.6 1035.4V2087.2M489.3 1035.4V2087.2M547 1035.4V2087.2M604.7 1035.4V2087.2M662.4 1035.4V2087.2M720.1 1035.4V2087.2M777.8 1035.4V2087.2M835.5 975V2087.2M893.2 1035.4V2087.2M950.9 1035.4V2087.2M1008.6 975V2087.2" fill="none" stroke="#969696" stroke-width="1.4"/>
</svg>
<div class="title" style="left:17px;top:-1px;"><span class="dot">·</span>标准角</div>
<div class="note" style="top:4px;">在指定的压力下<span class="q">（</span>以bar为单位<span class="p">）</span><span class="p">。</span></div>
<table class="t t1" style="left:0px;top:28px;width:1008px">
<colgroup><col style="width:52px"><col style="width:52px"><col style="width:67px"><col style="width:64px"><col style="width:65px"><col style="width:64px"><col style="width:64px"><col style="width:65px"><col style="width:64px"><col style="width:64px"><col style="width:65px"><col style="width:64px"><col style="width:65px"><col style="width:64px"><col style="width:64px"><col style="width:65px"></colgroup>
<thead>
<tr style="height:61px"><th rowspan="2" class="h3">接口<br>尺寸<br><span class="en">(in.)</span></th><th rowspan="2" class="h2">流量<br>代码</th><th rowspan="2" class="h2 hk">孔径<br><span class="en">(mm)</span></th><th colspan="10" class="hf">流量<span class="en">(L/min)</span></th><th colspan="3" class="ha">喷射角度<br><span class="en">(°)</span></th></tr>
<tr class="sub" style="height:31px"><th><span class="en">0.2</span>巴</th><th><span class="en">0.5</span>巴</th><th><span class="en">1</span>巴</th><th><span class="en">1.5</span>巴</th><th><span class="en">2</span>巴</th><th><span class="en">3</span>巴</th><th><span class="en">4</span>巴</th><th><span class="en">5</span>巴</th><th><span class="en">6</span>巴</th><th><span class="en">7</span>巴</th><th><span class="en">0.5</span>巴</th><th><span class="en">1.5</span>巴</th><th><span class="en">6</span>巴</th></tr>
</thead><tbody>
<tr style="height:30px"><td rowspan="7" class="sz" style="padding-top:8px">1/8</td><td class="a">0.5</td><td class="a b">1.2</td><td>-</td><td>0.16</td><td>0.23</td><td>0.28</td><td>0.32</td><td>0.39</td><td>0.46</td><td>0.51</td><td>0.56</td><td>0.60</td><td>-</td><td>58</td><td>69</td></tr>
<tr style="height:31px"><td class="a">1</td><td class="a b">1.6</td><td>-</td><td>0.32</td><td>0.46</td><td>0.56</td><td>0.61</td><td>0.79</td><td>0.91</td><td>1.1</td><td>1.1</td><td>1.2</td><td>-</td><td>64</td><td>76</td></tr>
<tr style="height:31px"><td class="a">2</td><td class="a b">2.0</td><td>-</td><td>0.64</td><td>0.91</td><td>1.1</td><td>1.3</td><td>1.6</td><td>1.8</td><td>2.0</td><td>2.2</td><td>2.4</td><td>52</td><td>61</td><td>69</td></tr>
<tr style="height:30px"><td class="a">3</td><td class="a b">2.4</td><td>-</td><td>0.97</td><td>1.4</td><td>1.7</td><td>1.9</td><td>2.4</td><td>2.7</td><td>3.1</td><td>3.3</td><td>3.6</td><td>52</td><td>64</td><td>77</td></tr>
<tr style="height:31px"><td class="a">5</td><td class="a b">3.2</td><td>1.0</td><td>1.6</td><td>2.3</td><td>2.8</td><td>3.2</td><td>3.9</td><td>4.6</td><td>5.1</td><td>5.6</td><td>6.0</td><td>56</td><td>67</td><td>76</td></tr>
<tr style="height:30px"><td class="a">8</td><td class="a b">4.0</td><td>1.6</td><td>2.6</td><td>3.6</td><td>4.5</td><td>5.2</td><td>6.3</td><td>7.3</td><td>8.2</td><td>8.9</td><td>9.6</td><td>56</td><td>65</td><td>70</td></tr>
<tr style="height:31px"><td class="a">10</td><td class="a b">4.4</td><td>2.0</td><td>3.2</td><td>4.6</td><td>5.6</td><td>6.4</td><td>7.9</td><td>9.1</td><td>10.2</td><td>11.2</td><td>12.1</td><td>55</td><td>65</td><td>72</td></tr>
<tr style="height:31px"><td rowspan="7" class="sz" style="padding-top:4px">1/4</td><td class="a">1</td><td class="a b">1.6</td><td>-</td><td>-</td><td>0.46</td><td>0.56</td><td>0.64</td><td>0.79</td><td>0.91</td><td>1.0</td><td>1.1</td><td>1.2</td><td>-</td><td>53</td><td>67</td></tr>
<tr style="height:30px"><td class="a">2</td><td class="a b">2.0</td><td>-</td><td>0.64</td><td>0.91</td><td>1.1</td><td>1.3</td><td>1.6</td><td>1.8</td><td>2.0</td><td>2.2</td><td>2.4</td><td>-</td><td>62</td><td>71</td></tr>
<tr style="height:31px"><td class="a">3</td><td class="a b">2.4</td><td>-</td><td>0.97</td><td>1.4</td><td>1.7</td><td>1.9</td><td>2.4</td><td>2.7</td><td>3.1</td><td>3.3</td><td>3.6</td><td>51</td><td>65</td><td>78</td></tr>
<tr style="height:30px"><td class="a">5</td><td class="a b">3.6</td><td>1.0</td><td>1.6</td><td>2.3</td><td>2.8</td><td>3.2</td><td>3.9</td><td>4.6</td><td>5.1</td><td>5.6</td><td>6.0</td><td>63</td><td>73</td><td>79</td></tr>
<tr style="height:31px"><td class="a">8</td><td class="a b">4.0</td><td>1.6</td><td>2.6</td><td>3.6</td><td>4.5</td><td>5.2</td><td>6.3</td><td>7.3</td><td>8.2</td><td>8.9</td><td>9.6</td><td>61</td><td>69</td><td>73</td></tr>
<tr style="height:31px"><td class="a">10</td><td class="a b">4.4</td><td>2.0</td><td>3.2</td><td>4.6</td><td>5.6</td><td>6.4</td><td>7.9</td><td>9.1</td><td>10.2</td><td>11.2</td><td>12.1</td><td>63</td><td>70</td><td>74</td></tr>
<tr style="height:30px"><td class="a">15</td><td class="a b">5.2</td><td>3.1</td><td>4.8</td><td>6.8</td><td>8.4</td><td>9.7</td><td>11.8</td><td>13.7</td><td>15.1</td><td>16.7</td><td>18.1</td><td>63</td><td>71</td><td>72</td></tr>
<tr style="height:31px"><td rowspan="7" class="sz">3/8</td><td class="a">5</td><td class="a b">3.2</td><td>1.0</td><td>1.6</td><td>2.3</td><td>2.8</td><td>3.2</td><td>3.9</td><td>4.6</td><td>5.1</td><td>5.6</td><td>6.0</td><td>64</td><td>73</td><td>79</td></tr>
<tr style="height:30px"><td class="a">8</td><td class="a b">4.0</td><td>1.6</td><td>2.6</td><td>3.6</td><td>4.5</td><td>5.2</td><td>6.3</td><td>7.3</td><td>8.2</td><td>8.9</td><td>9.6</td><td>62</td><td>70</td><td>74</td></tr>
<tr style="height:31px"><td class="a">10</td><td class="a b">4.4</td><td>2.0</td><td>3.2</td><td>4.6</td><td>5.6</td><td>6.4</td><td>7.9</td><td>9.1</td><td>10.2</td><td>11.2</td><td>12.1</td><td>64</td><td>72</td><td>75</td></tr>
<tr style="height:31px"><td class="a">15</td><td class="a b">5.6</td><td>3.1</td><td>4.6</td><td>6.8</td><td>8.4</td><td>9.7</td><td>11.8</td><td>13.7</td><td>15.3</td><td>16.7</td><td>18.1</td><td>64</td><td>72</td><td>74</td></tr>
<tr style="height:30px"><td class="a">20</td><td class="a b">6.4</td><td>4.1</td><td>6.4</td><td>9.1</td><td>11.2</td><td>12.9</td><td>15.8</td><td>18.2</td><td>20</td><td>22</td><td>24</td><td>63</td><td>70</td><td>74</td></tr>
<tr style="height:31px"><td class="a">25</td><td class="a b">7.5</td><td>5.1</td><td>8.1</td><td>11.4</td><td>14.0</td><td>16.1</td><td>19.7</td><td>23</td><td>25</td><td>28</td><td>30</td><td>63</td><td>70</td><td>74</td></tr>
<tr style="height:30px"><td class="a">30</td><td class="a b">7.9</td><td>6.1</td><td>9.7</td><td>13.7</td><td>16.7</td><td>19.3</td><td>24</td><td>27</td><td>31</td><td>33</td><td>36</td><td>63</td><td>70</td><td>74</td></tr>
<tr style="height:31px"><td rowspan="5" class="sz">1/2</td><td class="a">25</td><td class="a b">6.4</td><td>5.1</td><td>8.1</td><td>11.4</td><td>14.0</td><td>16.1</td><td>19.7</td><td>23</td><td>25</td><td>28</td><td>30</td><td>63</td><td>66</td><td>71</td></tr>
<tr style="height:31px"><td class="a">30</td><td class="a b">7.5</td><td>6.1</td><td>9.7</td><td>13.7</td><td>16.7</td><td>19.3</td><td>24</td><td>27</td><td>31</td><td>33</td><td>36</td><td>67</td><td>71</td><td>75</td></tr>
<tr style="height:30px"><td class="a">40</td><td class="a b">9.1</td><td>8.2</td><td>12.9</td><td>18.2</td><td>22</td><td>26</td><td>32</td><td>36</td><td>41</td><td>45</td><td>48</td><td>72</td><td>76</td><td>78</td></tr>
<tr style="height:31px"><td class="a">50</td><td class="a b">11.1</td><td>10.2</td><td>16.1</td><td>23</td><td>28</td><td>32</td><td>39</td><td>46</td><td>51</td><td>56</td><td>60</td><td>74</td><td>79</td><td>82</td></tr>
<tr style="height:30px"><td class="a">60</td><td class="a b">13.1</td><td>12.2</td><td>19.3</td><td>27</td><td>33</td><td>39</td><td>47</td><td>55</td><td>61</td><td>67</td><td>72</td><td>77</td><td>82</td><td>86</td></tr>
</tbody></table>
<div class="title" style="left:0px;top:939px;"><span class="dot">·</span>广角</div>
<div class="note" style="top:954px;right:-3px;">在指定的压力下<span class="q">（</span>以bar为单位<span class="p">）</span><span class="p">。</span></div>
<table class="t t2" style="left:2px;top:975px;width:1007px">
<colgroup><col style="width:67px"><col style="width:95px"><col style="width:94px"><col style="width:58px"><col style="width:58px"><col style="width:58px"><col style="width:57px"><col style="width:58px"><col style="width:58px"><col style="width:57px"><col style="width:58px"><col style="width:58px"><col style="width:58px"><col style="width:57px"><col style="width:58px"><col style="width:58px"></colgroup>
<thead>
<tr style="height:60px"><th rowspan="2" class="h3">接口<br>尺寸<br><span class="en">(in.)</span></th><th rowspan="2" class="h2">流量<br>代码</th><th rowspan="2" class="h2 hk">孔径<br><span class="en">(mm)</span></th><th colspan="10" class="hf">流量<span class="en">(L/min)</span></th><th colspan="3" class="ha">喷射角度<br><span class="en">(°)</span></th></tr>
<tr class="sub" style="height:31px"><th><span class="en">0.2</span>巴</th><th><span class="en">0.5</span>巴</th><th><span class="en">1</span>巴</th><th><span class="en">1.5</span>巴</th><th><span class="en">2</span>巴</th><th><span class="en">3</span>巴</th><th><span class="en">4</span>巴</th><th><span class="en">5</span>巴</th><th><span class="en">6</span>巴</th><th><span class="en">7</span>巴</th><th><span class="en">0.5</span>巴</th><th><span class="en">1.5</span>巴</th><th><span class="en">6</span>巴</th></tr>
</thead><tbody>
<tr style="height:26px"><td rowspan="9" class="sz">1/8</td><td class="a">0.5-0.5W</td><td class="a b">1.2</td><td>-</td><td>-</td><td>0.23</td><td>0.28</td><td>0.32</td><td>0.39</td><td>0.46</td><td>0.51</td><td>0.56</td><td>0.6</td><td>-</td><td>117</td><td>98</td></tr>
<tr style="height:27px"><td class="a">1-1W</td><td class="a b">1.6</td><td>-</td><td>-</td><td>0.46</td><td>0.56</td><td>0.64</td><td>0.79</td><td>0.91</td><td>1.0</td><td>1.1</td><td>1.2</td><td>-</td><td>125</td><td>110</td></tr>
<tr style="height:27px"><td class="a">2-3W</td><td class="a b">2.8</td><td>-</td><td>0.81</td><td>1.1</td><td>1.4</td><td>1.6</td><td>2.0</td><td>2.3</td><td>2.5</td><td>2.8</td><td>2.9</td><td>114</td><td>114</td><td>97</td></tr>
<tr style="height:27px"><td class="a">3-3W</td><td class="a b">2.8</td><td>-</td><td>1.97</td><td>1.4</td><td>1.7</td><td>1.9</td><td>2.4</td><td>2.7</td><td>3.1</td><td>3.3</td><td>3.7</td><td>114</td><td>114</td><td>97</td></tr>
<tr style="height:27px"><td class="a">3-5W</td><td class="a b">3.2</td><td>-</td><td>1.1</td><td>1.5</td><td>1.9</td><td>2.2</td><td>2.7</td><td>3.1</td><td>3.5</td><td>3.8</td><td>4.0</td><td>116</td><td>110</td><td>95</td></tr>
<tr style="height:27px"><td class="a">2-10W</td><td class="a b">4.4</td><td>-</td><td>1.3</td><td>1.9</td><td>2.3</td><td>2.6</td><td>3.2</td><td>3.7</td><td>4.2</td><td>4.6</td><td>5.0</td><td>130</td><td>135</td><td>120</td></tr>
<tr style="height:27px"><td class="a">5-5W</td><td class="a b">3.2</td><td>-</td><td>1.6</td><td>2.3</td><td>2.8</td><td>3.2</td><td>3.9</td><td>4.6</td><td>5.1</td><td>5.5</td><td>6.1</td><td>116</td><td>110</td><td>92</td></tr>
<tr style="height:27px"><td class="a">5-10W</td><td class="a b">4.4</td><td>1.3</td><td>2.1</td><td>3.0</td><td>3.6</td><td>4.2</td><td>5.1</td><td>5.9</td><td>6.6</td><td>7.3</td><td>7.9</td><td>126</td><td>121</td><td>95</td></tr>
<tr style="height:27px"><td class="a">8-10W</td><td class="a b">4.4</td><td>1.8</td><td>2.9</td><td>4.1</td><td>5.0</td><td>5.8</td><td>7.1</td><td>8.2</td><td>9.2</td><td>10.0</td><td>10.8</td><td>124</td><td>112</td><td>90</td></tr>
<tr style="height:26px"><td rowspan="14" class="sz">1/4</td><td class="a">1-1W</td><td class="a b">1.6</td><td>-</td><td>-</td><td>0.46</td><td>0.56</td><td>0.64</td><td>0.79</td><td>0.91</td><td>1.0</td><td>1.1</td><td>1.2</td><td>-</td><td>117</td><td>111</td></tr>
<tr style="height:27px"><td class="a">1-5W</td><td class="a b">3.2</td><td>-</td><td>-</td><td>0.77</td><td>0.95</td><td>1.1</td><td>1.3</td><td>1.5</td><td>1.7</td><td>1.9</td><td>2.0</td><td>-</td><td>123</td><td>124</td></tr>
<tr style="height:27px"><td class="a">1-10W</td><td class="a b">4.4</td><td>-</td><td>-</td><td>0.96</td><td>1.2</td><td>1.4</td><td>1.7</td><td>1.9</td><td>2.1</td><td>2.3</td><td>2.5</td><td>-</td><td>144</td><td>139</td></tr>
<tr style="height:27px"><td class="a">1-15W</td><td class="a b">5.6</td><td>-</td><td>-</td><td>1.1</td><td>1.3</td><td>1.5</td><td>1.9</td><td>2.2</td><td>2.4</td><td>2.7</td><td>2.9</td><td>-</td><td>128</td><td>132</td></tr>
<tr style="height:27px"><td class="a">2-5W</td><td class="a b">3.2</td><td>-</td><td>1.1</td><td>1.5</td><td>1.9</td><td>2.2</td><td>2.7</td><td>3.1</td><td>3.5</td><td>3.8</td><td>4.0</td><td>118</td><td>123</td><td>113</td></tr>
<tr style="height:27px"><td class="a">2-10W</td><td class="a b">4.4</td><td>-</td><td>1.3</td><td>1.9</td><td>2.3</td><td>2.6</td><td>3.2</td><td>3.7</td><td>4.2</td><td>4.6</td><td>5.0</td><td>138</td><td>136</td><td>126</td></tr>
<tr style="height:27px"><td class="a">5-5W</td><td class="a b">3.2</td><td>-</td><td>1.6</td><td>2.3</td><td>2.8</td><td>3.2</td><td>3.9</td><td>4.6</td><td>5.1</td><td>5.6</td><td>6.1</td><td>114</td><td>113</td><td>104</td></tr>
<tr style="height:27px"><td class="a">5-10W</td><td class="a b">4.4</td><td>1.3</td><td>2.1</td><td>3.0</td><td>3.6</td><td>4.2</td><td>5.1</td><td>5.9</td><td>6.6</td><td>7.3</td><td>7.9</td><td>130</td><td>130</td><td>119</td></tr>
<tr style="height:27px"><td class="a">5-15W</td><td class="a b">5.6</td><td>1.6</td><td>2.5</td><td>3.5</td><td>4.3</td><td>5.0</td><td>6.1</td><td>7.0</td><td>7.8</td><td>8.6</td><td>9.3</td><td>130</td><td>132</td><td>120</td></tr>
<tr style="height:26px"><td class="a">8-10W</td><td class="a b">4.4</td><td>1.8</td><td>2.9</td><td>4.1</td><td>5.0</td><td>5.8</td><td>7.1</td><td>8.2</td><td>9.2</td><td>10.0</td><td>10.8</td><td>129</td><td>122</td><td>103</td></tr>
<tr style="height:27px"><td class="a">10-10W</td><td class="a b">4.4</td><td>2.0</td><td>3.2</td><td>4.6</td><td>5.6</td><td>6.4</td><td>7.9</td><td>9.1</td><td>10.2</td><td>11.2</td><td>12.2</td><td>120</td><td>108</td><td>95</td></tr>
<tr style="height:27px"><td class="a">8-15W</td><td class="a b">5.6</td><td>2.2</td><td>3.5</td><td>5.0</td><td>6.1</td><td>7.1</td><td>8.7</td><td>10.0</td><td>11.2</td><td>12.3</td><td>13.2</td><td>129</td><td>122</td><td>107</td></tr>
<tr style="height:27px"><td class="a">10-15W</td><td class="a b">5.6</td><td>2.4</td><td>3.9</td><td>5.5</td><td>6.7</td><td>7.7</td><td>9.5</td><td>10.9</td><td>12.2</td><td>13.4</td><td>14.6</td><td>120</td><td>108</td><td>97</td></tr>
<tr style="height:27px"><td class="a">15-15W</td><td class="a b">5.6</td><td>3.0</td><td>4.8</td><td>6.8</td><td>8.4</td><td>9.7</td><td>11.8</td><td>13.7</td><td>15.3</td><td>16.7</td><td>18.0</td><td>101</td><td>95</td><td>90</td></tr>
<tr style="height:27px"><td rowspan="14" class="sz">3/8</td><td class="a">5-10W</td><td class="a b">4.4</td><td>1.3</td><td>2.1</td><td>3.0</td><td>3.6</td><td>4.2</td><td>5.1</td><td>5.9</td><td>6.6</td><td>7.3</td><td>7.9</td><td>130</td><td>123</td><td>102</td></tr>
<tr style="height:27px"><td class="a">5-15W</td><td class="a b">5.6</td><td>1.6</td><td>2.5</td><td>3.5</td><td>4.3</td><td>5.0</td><td>6.1</td><td>7.0</td><td>7.8</td><td>8.6</td><td>9.3</td><td>138</td><td>131</td><td>112</td></tr>
<tr style="height:27px"><td class="a">8-10W</td><td class="a b">4.4</td><td>1.8</td><td>2.9</td><td>4.1</td><td>5.0</td><td>5.8</td><td>7.1</td><td>8.2</td><td>9.2</td><td>10.0</td><td>10.8</td><td>122</td><td>110</td><td>96</td></tr>
<tr style="height:26px"><td class="a">10-10W</td><td class="a b">4.4</td><td>2.0</td><td>3.2</td><td>4.6</td><td>5.6</td><td>6.4</td><td>7.9</td><td>9.1</td><td>10.2</td><td>11.2</td><td>12.2</td><td>116</td><td>108</td><td>93</td></tr>
<tr style="height:27px"><td class="a">8-15W</td><td class="a b">5.6</td><td>2.2</td><td>3.5</td><td>5.0</td><td>6.1</td><td>7.1</td><td>8.7</td><td>10.0</td><td>11.2</td><td>12.3</td><td>13.2</td><td>133</td><td>120</td><td>105</td></tr>
<tr style="height:27px"><td class="a">10-15W</td><td class="a b">5.6</td><td>2.4</td><td>3.9</td><td>5.5</td><td>6.7</td><td>7.7</td><td>9.5</td><td>10.9</td><td>12.2</td><td>13.4</td><td>14.6</td><td>126</td><td>115</td><td>100</td></tr>
<tr style="height:27px"><td class="a">8-25W</td><td class="a b">7.5</td><td>2.6</td><td>4.2</td><td>5.9</td><td>7.3</td><td>8.4</td><td>10.3</td><td>11.9</td><td>13.3</td><td>14.5</td><td>15.6</td><td>122</td><td>118</td><td>109</td></tr>
<tr style="height:27px"><td class="a">10-20W</td><td class="a b">6.0</td><td>2.9</td><td>4.5</td><td>6.4</td><td>7.8</td><td>9.0</td><td>11.1</td><td>12.8</td><td>14.3</td><td>15.6</td><td>16.9</td><td>118</td><td>112</td><td>102</td></tr>
<tr style="height:27px"><td class="a">15-15W</td><td class="a b">5.6</td><td>3.0</td><td>4.8</td><td>6.8</td><td>8.4</td><td>9.7</td><td>11.8</td><td>13.7</td><td>15.3</td><td>16.7</td><td>18.0</td><td>116</td><td>106</td><td>95</td></tr>
<tr style="height:27px"><td class="a">15-20W</td><td class="a b">6.0</td><td>3.4</td><td>5.5</td><td>7.7</td><td>9.5</td><td>11.0</td><td>13.4</td><td>15.5</td><td>17.3</td><td>16.0</td><td>20.4</td><td>113</td><td>108</td><td>98</td></tr>
<tr style="height:27px"><td class="a">20-20W</td><td class="a b">6.0</td><td>4.1</td><td>6.4</td><td>9.1</td><td>11.2</td><td>12.9</td><td>15.8</td><td>18.2</td><td>20</td><td>22</td><td>24.1</td><td>106</td><td>102</td><td>95</td></tr>
<tr style="height:27px"><td class="a">15-30W</td><td class="a b">7.9</td><td>4.5</td><td>7.1</td><td>10.0</td><td>12.3</td><td>14.2</td><td>17.4</td><td>20</td><td>22</td><td>25</td><td>26.5</td><td>116</td><td>110</td><td>102</td></tr>
<tr style="height:26px"><td class="a">25-25W</td><td class="a b">7.5</td><td>5.1</td><td>8.1</td><td>11.4</td><td>14.0</td><td>16.1</td><td>19.7</td><td>23</td><td>25</td><td>28</td><td>30.2</td><td>105</td><td>100</td><td>93</td></tr>
<tr style="height:27px"><td class="a">25-30W</td><td class="a b">7.9</td><td>5.7</td><td>9.0</td><td>12.8</td><td>15.6</td><td>18.0</td><td>22</td><td>26</td><td>29</td><td>31</td><td>33.9</td><td>105</td><td>101</td><td>94</td></tr>
<tr style="height:27px"><td rowspan="1" class="sz">1/2</td><td class="a">50-50W</td><td class="a b">11.1</td><td>10.2</td><td>16.1</td><td>23</td><td>28</td><td>32</td><td>39</td><td>46</td><td>51</td><td>56</td><td>60.9</td><td>110</td><td>102</td><td>93</td></tr>
</tbody></table>
<div class="foot" style="top:2098px;"><span class="dot">·</span>如需订购特殊尺寸<span class="p">，</span><span class="sp"></span>请与销售人员联系！</div>
</body>
</html>
